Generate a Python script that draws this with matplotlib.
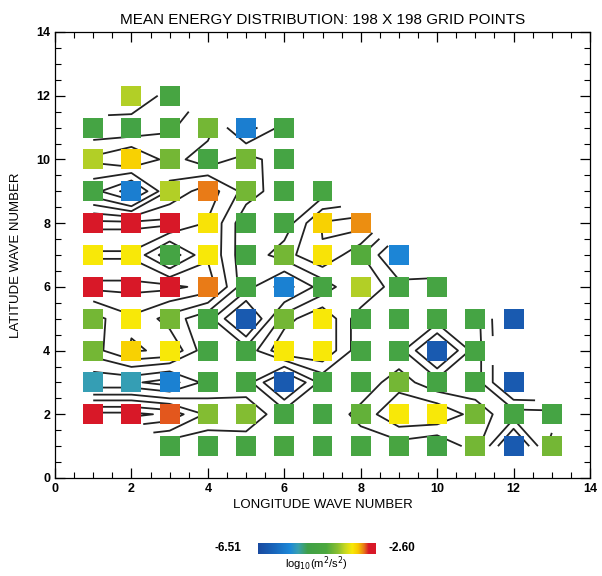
import matplotlib
matplotlib.use("Agg")
import matplotlib.pyplot as plt
import numpy as np
from matplotlib.colors import LinearSegmentedColormap
from matplotlib.ticker import MultipleLocator

nan = np.nan

# longitude / latitude wave numbers of the grid
lon = [1, 2, 3, 4, 5, 6, 7, 8, 9, 10, 11, 12, 13]
lat = [1, 2, 3, 4, 5, 6, 7, 8, 9, 10, 11, 12]

# mean energy, log10(m^2/s^2), one row per latitude wave number (lon 1..13)
lat1 = [nan, nan, -4.6, -4.6, -4.55, -4.45, -4.6, -4.5, -4.45, -4.7, -4.0, -6.2, -4.0]
lat2 = [-2.72, -2.72, -2.95, -3.9, -3.9, -4.55, -4.6, -4.1, -3.38, -3.38, -4.0, -4.55, -4.6]
lat3 = [-5.2, -5.2, -5.55, -4.6, -4.55, -6.2, -4.6, -4.55, -4.0, -4.6, -4.55, -6.2, nan]
lat4 = [-4.0, -3.25, -3.38, -4.6, -4.6, -3.38, -3.38, -4.55, -4.6, -6.2, -4.55, nan, nan]
lat5 = [-4.0, -3.38, -4.0, -4.6, -6.2, -4.0, -3.38, -4.55, -4.6, -4.55, -4.6, -6.2, nan]
lat6 = [-2.72, -2.72, -2.72, -3.0, -4.6, -5.55, -4.55, -3.7, -4.6, -4.55, nan, nan, nan]
lat7 = [-3.38, -3.38, -4.6, -3.38, -4.6, -4.0, -3.35, -4.2, -5.5, nan, nan, nan, nan]
lat8 = [-2.72, -2.72, -2.72, -3.35, -4.6, -4.55, -3.25, -3.05, nan, nan, nan, nan, nan]
lat9 = [-4.6, -5.6, -3.7, -3.0, -4.0, -4.55, -4.5, nan, nan, nan, nan, nan, nan]
lat10 = [-3.7, -3.25, -4.0, -4.6, -4.0, -4.6, nan, nan, nan, nan, nan, nan, nan]
lat11 = [-4.6, -4.65, -4.3, -4.0, -5.6, -4.6, nan, nan, nan, nan, nan, nan, nan]
lat12 = [nan, -3.7, -4.5, nan, nan, nan, nan, nan, nan, nan, nan, nan, nan]

vmin, vmax = -6.51, -2.60
levels = [-5.9, -5.3, -4.8, -4.25, -3.8, -3.3, -2.85]

Z = np.array([lat1, lat2, lat3, lat4, lat5, lat6, lat7, lat8, lat9, lat10, lat11, lat12])
Zm = np.ma.masked_invalid(Z)
LON, LAT = np.meshgrid(lon, lat)

cmap = LinearSegmentedColormap.from_list("energy", [
    (0.00, "#1a4aa0"), (0.12, "#1862b8"), (0.27, "#1c88d8"), (0.34, "#38a0b0"),
    (0.42, "#40a048"), (0.58, "#4ca83e"), (0.68, "#8cc030"), (0.74, "#c8d820"),
    (0.80, "#f8e808"), (0.85, "#f8c800"), (0.90, "#e87818"), (0.94, "#d81828"),
    (1.00, "#d81828")])

plt.rcParams['font.family'] = ['Liberation Sans', 'DejaVu Sans']

fig = plt.figure(figsize=(6.02, 5.76), dpi=100)
ax = fig.add_axes([55/602, 98/576, 535/602, 446/576])

ax.contour(LON, LAT, Zm, levels=levels, colors='#222222', linewidths=1.3,
           linestyles='solid', zorder=1)

ok = ~np.isnan(Z)
ax.scatter(LON[ok], LAT[ok], c=Z[ok], cmap=cmap, vmin=vmin, vmax=vmax,
           marker='s', s=205, linewidths=0, zorder=2)

ax.set_xlim(0, 14)
ax.set_ylim(0, 14)
ax.xaxis.set_major_locator(MultipleLocator(2))
ax.yaxis.set_major_locator(MultipleLocator(2))
ax.xaxis.set_minor_locator(MultipleLocator(0.5))
ax.yaxis.set_minor_locator(MultipleLocator(0.5))
ax.tick_params(which='both', direction='in', top=True, right=True, labelsize=9)
ax.tick_params(which='major', length=7, width=0.9)
ax.tick_params(which='minor', length=4, width=0.8)
for lbl in ax.get_xticklabels() + ax.get_yticklabels():
    lbl.set_fontweight('bold')
for sp in ax.spines.values():
    sp.set_linewidth(0.9)

ax.set_xlabel("LONGITUDE WAVE NUMBER", fontsize=9.5, labelpad=3)
ax.set_ylabel("LATITUDE WAVE NUMBER", fontsize=9.5, labelpad=10)
ax.set_title("MEAN ENERGY DISTRIBUTION: 198 X 198 GRID POINTS", fontsize=11, pad=6)

# colour bar at the bottom
cax = fig.add_axes([258/602, 22/576, 118/602, 11/576])
grad = np.linspace(vmin, vmax, 256).reshape(1, -1)
cax.imshow(grad, aspect='auto', cmap=cmap, vmin=vmin, vmax=vmax,
           extent=[vmin, vmax, 0, 1])
cax.set_xticks([])
cax.set_yticks([])
for sp in cax.spines.values():
    sp.set_visible(False)
fig.text(228/602, 28/576, "-6.51", fontsize=8.5, fontweight='bold', ha='center', va='center')
fig.text(402/602, 28/576, "-2.60", fontsize=8.5, fontweight='bold', ha='center', va='center')
fig.text(316/602, 12/576, r"log$_{10}$(m$^2$/s$^2$)", fontsize=8, ha='center', va='center')

fig.savefig("out.png", dpi=100)
